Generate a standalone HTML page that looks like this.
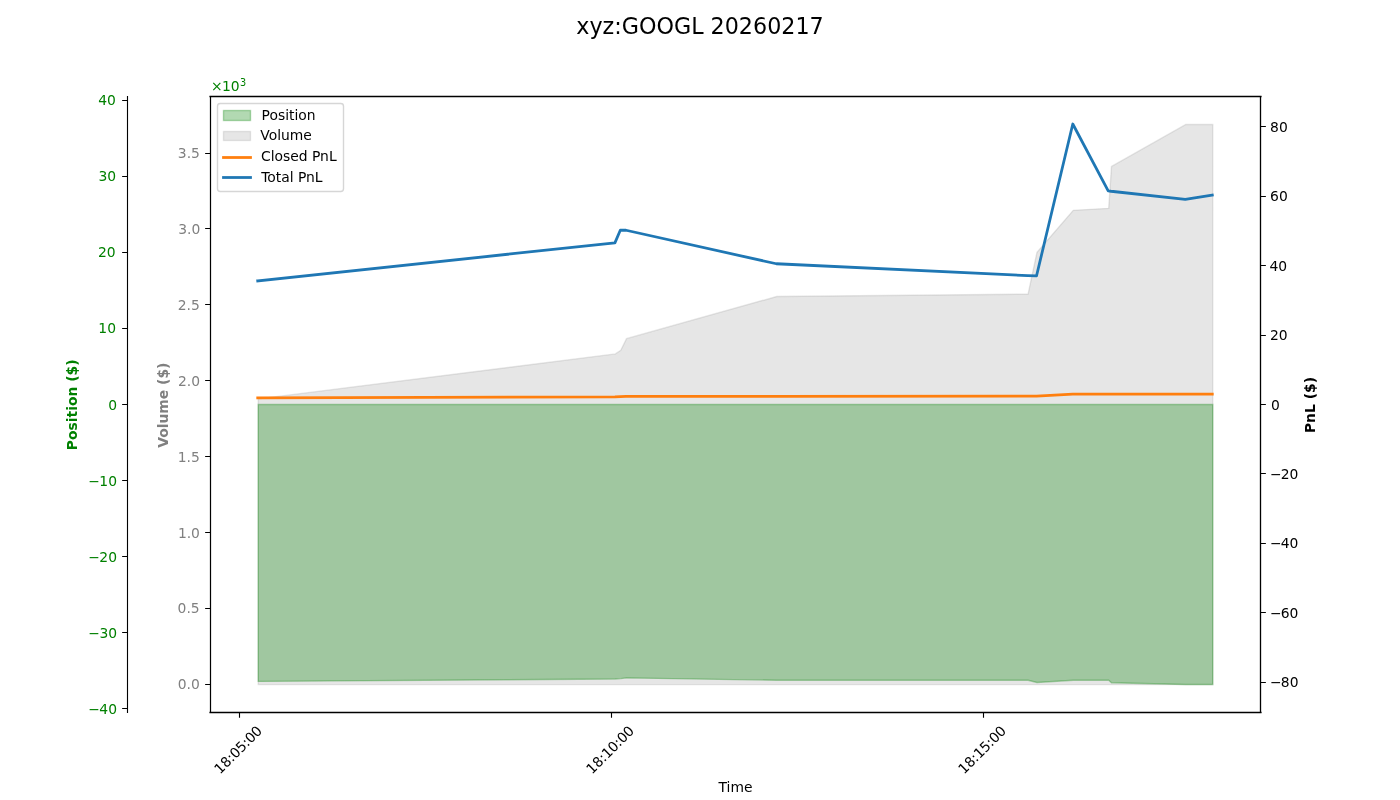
<!DOCTYPE html>
<html lang="en"><head><meta charset="utf-8"><title>xyz:GOOGL 20260217</title>
<style>
html,body{margin:0;padding:0;background:#fff;}
body{width:1400px;height:800px;overflow:hidden;}
svg{display:block;font-family:"DejaVu Sans","Liberation Sans",sans-serif;font-size:13.889px;}
.sp{stroke:#000;fill:none;}
.gr{fill:#008000;}
.gy{fill:#808080;}
.b{font-weight:bold;}
</style></head><body>
<svg width="1400" height="800" viewBox="0 0 1400 800">
<rect width="1400" height="800" fill="#fff"/>
<text x="700.00" y="34" font-size="22.222px" text-anchor="middle">xyz:GOOGL 20260217</text>
<polygon points="258.23,398.90 615.40,353.90 620.80,350.20 626.50,338.70 776.80,296.50 1028.10,294.10 1037.00,252.20 1073.30,210.35 1108.70,208.35 1111.50,166.40 1185.80,124.50 1212.77,124.50 1212.77,684.60 258.23,684.60" fill="#808080" fill-opacity="0.2" stroke="#808080" stroke-opacity="0.2" stroke-width="1.389" stroke-linejoin="miter"/>
<polygon points="258.23,681.40 615.40,679.00 620.80,678.60 626.50,677.90 776.80,680.30 1028.10,680.30 1037.00,682.50 1073.30,680.30 1108.70,680.30 1111.50,682.70 1185.80,684.50 1212.77,684.50 1212.77,404.50 258.23,404.50" fill="#008000" fill-opacity="0.3" stroke="#008000" stroke-opacity="0.3" stroke-width="1.389" stroke-linejoin="miter"/>
<polyline points="257.73,397.85 614.90,396.80 620.30,396.60 626.00,396.30 776.30,396.30 1027.60,396.20 1036.50,396.20 1072.80,394.10 1108.20,394.10 1111.00,394.10 1185.30,394.10 1212.27,394.10" fill="none" stroke="#ff7f0e" stroke-width="2.778" stroke-linejoin="round" stroke-linecap="square"/>
<polyline points="257.73,280.85 614.90,242.85 620.30,230.25 626.00,230.25 776.30,263.75 1027.60,275.65 1036.50,275.95 1072.80,124.00 1108.20,190.85 1111.00,191.25 1185.30,199.35 1212.27,195.15" fill="none" stroke="#1f77b4" stroke-width="2.778" stroke-linejoin="round" stroke-linecap="square"/>
<g class="sp">
<path d="M209.45 96.5H1261.55M209.45 712.5H1261.55" stroke-width="1.32"/>
<path d="M210.5 96V713" stroke-width="1.22"/>
<path d="M1260.5 96V713" stroke-width="1.32"/>
<path d="M127.5 96V713" stroke-width="1.11"/>
<path d="M205.14 153.5H210M205.14 228.5H210M205.14 304.5H210M205.14 380.5H210M205.14 456.5H210M205.14 532.5H210M205.14 608.5H210M205.14 684.5H210M122.14 100.5H127M122.14 176.5H127M122.14 252.5H127M122.14 328.5H127M122.14 404.5H127M122.14 480.5H127M122.14 556.5H127M122.14 632.5H127M122.14 708.5H127M1261 126.5H1265.86M1261 196.5H1265.86M1261 265.5H1265.86M1261 335.5H1265.86M1261 404.5H1265.86M1261 473.5H1265.86M1261 543.5H1265.86M1261 612.5H1265.86M1261 682.5H1265.86M239.5 713V717.86M611.5 713V717.86M983.5 713V717.86" stroke-width="1.11"/>
</g>
<g class="gy" text-anchor="end">
<text x="199.94" y="158">3.5</text>
<text x="200.28" y="234">3.0</text>
<text x="199.87" y="310">2.5</text>
<text x="200.11" y="386">2.0</text>
<text x="199.72" y="462">1.5</text>
<text x="199.96" y="538">1.0</text>
<text x="199.65" y="613">0.5</text>
<text x="199.88" y="689">0.0</text>
</g>
<g class="gr" text-anchor="end">
<text x="115.96" y="105">40</text>
<text x="116.06" y="181">30</text>
<text x="115.54" y="257">20</text>
<text x="116.00" y="333">10</text>
<text x="116.96" y="410">0</text>
<text x="116.53" y="486"><tspan dx="0.5">−</tspan><tspan dx="-0.5">10</tspan></text>
<text x="116.49" y="562"><tspan dx="0.5">−</tspan><tspan dx="-0.5">20</tspan></text>
<text x="116.56" y="638"><tspan dx="0.5">−</tspan><tspan dx="-0.5">30</tspan></text>
<text x="116.50" y="714"><tspan dx="0.5">−</tspan><tspan dx="-0.5">40</tspan></text>
</g>
<g>
<text x="1270.08" y="132">80</text>
<text x="1270.08" y="201">60</text>
<text x="1269.49" y="271">40</text>
<text x="1269.99" y="340">20</text>
<text x="1270.92" y="410">0</text>
<text x="1269.06" y="479"><tspan dx="0.9">−</tspan><tspan dx="-0.9">20</tspan></text>
<text x="1269.07" y="548"><tspan dx="0.9">−</tspan><tspan dx="-0.9">40</tspan></text>
<text x="1269.15" y="618"><tspan dx="0.9">−</tspan><tspan dx="-0.9">60</tspan></text>
<text x="1269.19" y="687"><tspan dx="0.9">−</tspan><tspan dx="-0.9">80</tspan></text>
</g>
<text transform="translate(238.00,749.59) rotate(-45)" text-anchor="middle" y="5.06" textLength="60.8" lengthAdjust="spacing">18:05:00</text>
<text transform="translate(610.00,749.62) rotate(-45)" text-anchor="middle" y="5.06" textLength="60.8" lengthAdjust="spacing">18:10:00</text>
<text transform="translate(982.00,749.57) rotate(-45)" text-anchor="middle" y="5.06" textLength="60.8" lengthAdjust="spacing">18:15:00</text>
<text x="735.47" y="792" text-anchor="middle">Time</text>
<text class="gr b" transform="translate(77.01,404.87) rotate(-90)" text-anchor="middle">Position ($)</text>
<text class="gy b" transform="translate(167.53,405.21) rotate(-90)" text-anchor="middle">Volume ($)</text>
<text class="b" transform="translate(1315.40,405.03) rotate(-90)" text-anchor="middle">PnL ($)</text>
<text class="gr" y="91"><tspan x="211">×</tspan><tspan x="222">10</tspan><tspan font-size="9.722px" dx="0.3" dy="-5">3</tspan></text>
<rect x="217.5" y="103.5" width="126" height="88" rx="2.78" ry="2.78" fill="#fff" fill-opacity="0.8" stroke="#ccc" stroke-opacity="0.8" stroke-width="1.389"/>
<rect x="223.5" y="110.5" width="27" height="10" fill="#008000" fill-opacity="0.3" stroke="#008000" stroke-opacity="0.3" stroke-width="1.389"/>
<rect x="223.5" y="131.5" width="27" height="9" fill="#808080" fill-opacity="0.2" stroke="#808080" stroke-opacity="0.2" stroke-width="1.389"/>
<path d="M223.5 157.5H250.5" stroke="#ff7f0e" stroke-width="2.778" stroke-linecap="square" fill="none"/>
<path d="M223.5 177.5H250.5" stroke="#1f77b4" stroke-width="2.778" stroke-linecap="square" fill="none"/>
<text x="261.59" y="120">Position</text>
<text x="260.30" y="140">Volume</text>
<text x="260.96" y="161">Closed PnL</text>
<text x="261.13" y="182">Total PnL</text>
</svg>
</body></html>
